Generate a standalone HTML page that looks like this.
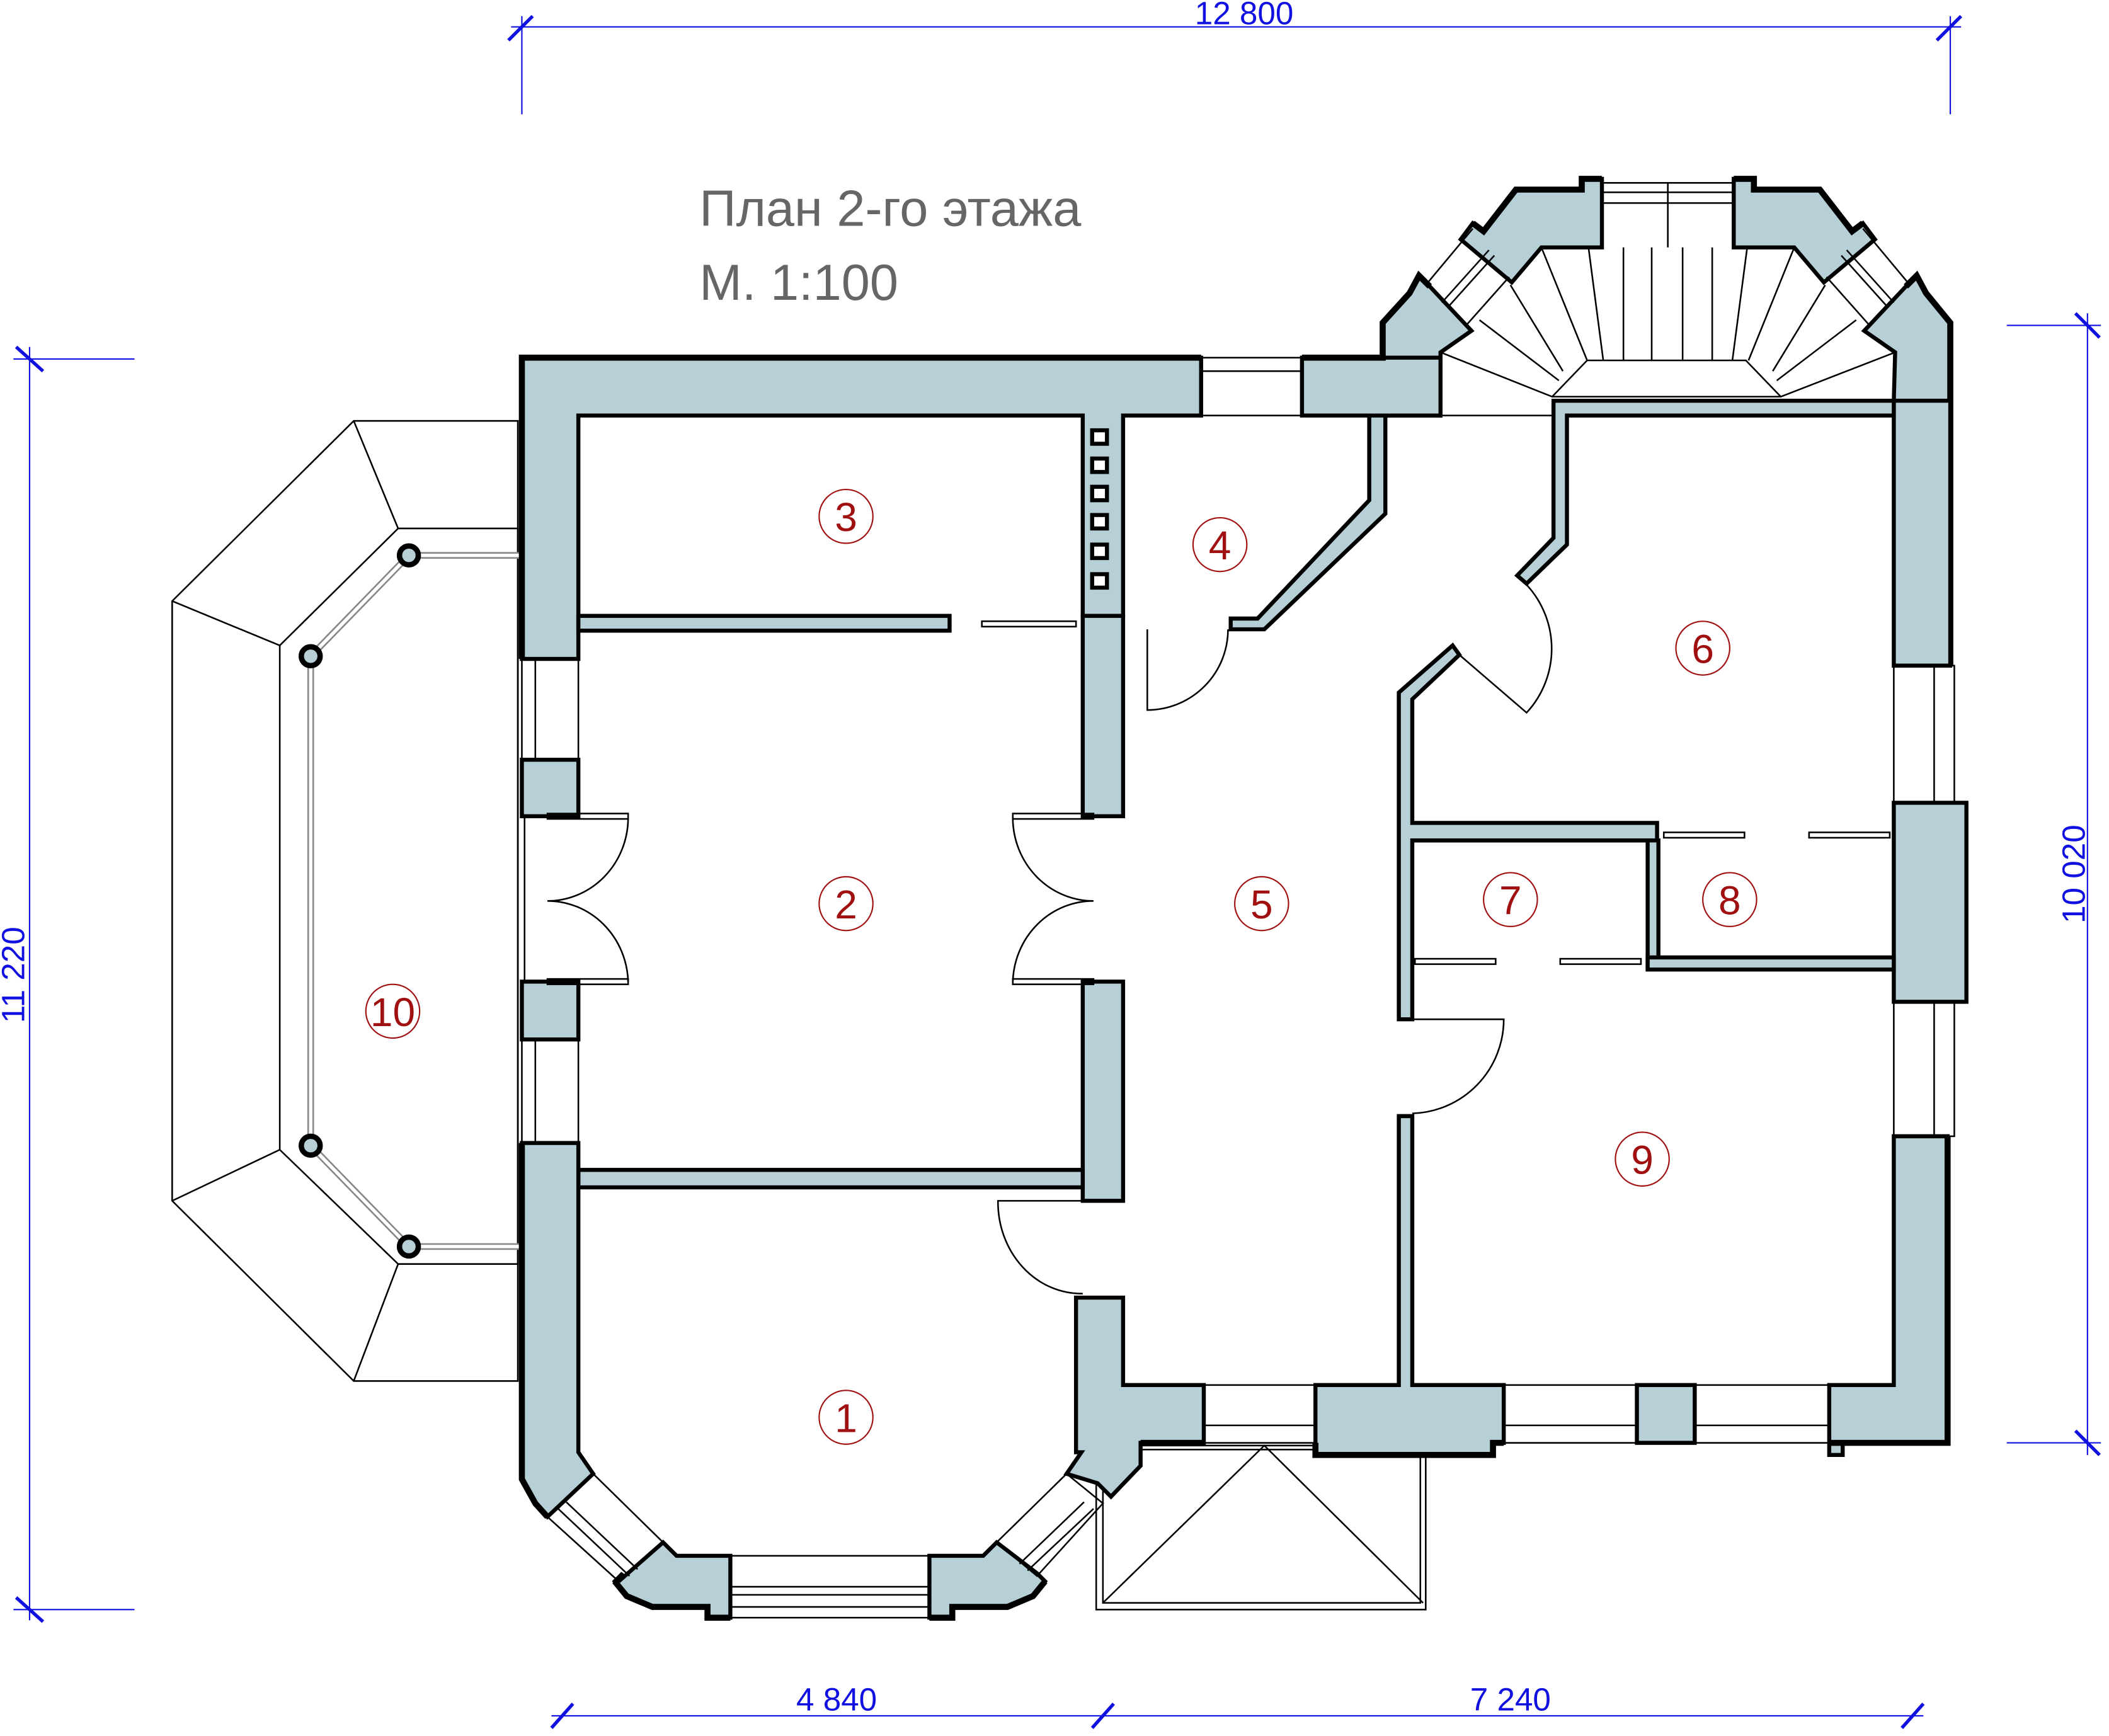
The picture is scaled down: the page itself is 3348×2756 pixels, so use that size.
<!DOCTYPE html>
<html><head><meta charset="utf-8"><style>
html,body{margin:0;padding:0;background:#fff;}
svg{display:block;}
.w{fill:#b7cfd6;stroke:#000;stroke-width:3;stroke-linejoin:miter}
.t{fill:none;stroke:#000;stroke-width:1.2}
.o{fill:none;stroke:#000;stroke-width:4.5;stroke-linejoin:miter}
.d{stroke:#1010e0;stroke-width:1;fill:none}
.tk{stroke:#1010e0;stroke-width:2.5}
.dt{font-family:"Liberation Sans",sans-serif;font-size:24px;fill:#1010e0}
.rc{fill:none;stroke:#a01010;stroke-width:1}
.rt{font-family:"Liberation Sans",sans-serif;font-size:30px;fill:#a01010;text-anchor:middle}
</style></head><body>
<svg width="3348" height="2756" viewBox="0 0 1568 1291" preserveAspectRatio="none" xmlns="http://www.w3.org/2000/svg">
<rect width="1568" height="1291" fill="#fff"/>
<!-- dimensions -->
<line class="d" x1="380" y1="20" x2="1458" y2="20"/><line class="tk" x1="378" y1="30" x2="396" y2="12"/><line class="tk" x1="1440" y1="30" x2="1458" y2="12"/>
<line class="d" x1="388" y1="12" x2="388" y2="85"/><line class="d" x1="1450" y1="12" x2="1450" y2="85"/>
<text class="dt" x="925" y="18" text-anchor="middle">12 800</text>
<line class="d" x1="22" y1="258" x2="22" y2="1205"/><line class="d" x1="10" y1="267" x2="100" y2="267"/><line class="d" x1="10" y1="1197" x2="100" y2="1197"/>
<line class="tk" x1="12" y1="258" x2="32" y2="276"/><line class="tk" x1="12" y1="1188" x2="32" y2="1206"/>
<text class="dt" transform="translate(18,725) rotate(-90)" text-anchor="middle">11 220</text>
<line class="d" x1="1552" y1="233" x2="1552" y2="1082"/><line class="d" x1="1492" y1="242" x2="1562" y2="242"/><line class="d" x1="1492" y1="1073" x2="1562" y2="1073"/>
<line class="tk" x1="1543" y1="233" x2="1561" y2="251"/><line class="tk" x1="1543" y1="1064" x2="1561" y2="1082"/>
<text class="dt" transform="translate(1550,650) rotate(-90)" text-anchor="middle">10 020</text>
<line class="d" x1="410" y1="1276" x2="1430" y2="1276"/>
<line class="tk" x1="410" y1="1285" x2="426" y2="1267"/><line class="tk" x1="812" y1="1285" x2="828" y2="1267"/><line class="tk" x1="1414" y1="1285" x2="1430" y2="1267"/>
<text class="dt" x="622" y="1272" text-anchor="middle">4 840</text><text class="dt" x="1123" y="1272" text-anchor="middle">7 240</text>
<!-- title -->
<text x="520" y="168" font-family="Liberation Sans,sans-serif" font-size="38" fill="#666">План 2-го этажа</text>
<text x="520" y="223" font-family="Liberation Sans,sans-serif" font-size="38" fill="#666">М. 1:100</text>
<!-- balcony 10 -->
<polygon class="t" points="385,313 263,313 128,447 128,893 263,1027 385,1027"/>
<polygon class="t" points="385,393 296,393 208,480 208,855 296,940 385,940"/>
<line class="t" x1="263" y1="313" x2="296" y2="393"/><line class="t" x1="128" y1="447" x2="208" y2="480"/><line class="t" x1="128" y1="893" x2="208" y2="855"/><line class="t" x1="263" y1="1027" x2="296" y2="940"/>
<polyline points="388,413 304,413 231,488 231,852 304,927 388,927" fill="none" stroke="#888" stroke-width="5"/>
<polyline points="388,413 304,413 231,488 231,852 304,927 388,927" fill="none" stroke="#fff" stroke-width="2.5"/>
<g fill="#b7cfd6" stroke="#000" stroke-width="4"><circle cx="304" cy="413" r="7"/><circle cx="231" cy="488" r="7"/><circle cx="231" cy="852" r="7"/><circle cx="304" cy="927" r="7"/></g>
<!-- porch -->
<rect class="t" x="815" y="1075" width="245" height="122"/><rect class="t" x="820" y="1078" width="236" height="114"/>
<polyline class="t" points="820,1192 940,1075 1058,1192"/>
<!-- stair tower -->
<polygon class="w" points="1028,309 1028,240 1048,218 1055,205 1063,213 1094,246 1071,262 1071,309"/>
<polygon class="w" points="1086,178 1095,166 1103,172 1127,141 1176,141 1176,133 1191,133 1191,184 1146,184 1124,210"/>
<polygon class="w" points="1394,178 1385,166 1377,172 1353,141 1304,141 1304,133 1289,133 1289,184 1334,184 1356,210"/>
<polygon class="w" points="1450,298 1450,240 1432,218 1425,205 1417,213 1386,246 1409,262 1408,298"/>
<g class="t">
<line x1="1060" y1="212" x2="1095" y2="170"/><line x1="1090" y1="242" x2="1122" y2="206"/><line x1="1072" y1="225" x2="1107" y2="186"/><line x1="1076" y1="229" x2="1111" y2="190"/>
<line x1="1420" y1="212" x2="1385" y2="170"/><line x1="1390" y1="242" x2="1358" y2="206"/><line x1="1408" y1="225" x2="1373" y2="186"/><line x1="1404" y1="229" x2="1369" y2="190"/>
<rect x="1191" y="143" width="98" height="8"/><line x1="1240" y1="136" x2="1240" y2="184"/><line x1="1191" y1="136" x2="1289" y2="136"/>
<polyline points="1071,262 1154,295 1180,268 1298,268 1324,295 1409,262"/>
<line x1="1154" y1="295" x2="1324" y2="295"/>
<line x1="1123" y1="212" x2="1162" y2="276"/><line x1="1100" y1="238" x2="1159" y2="283"/>
<line x1="1357" y1="212" x2="1318" y2="276"/><line x1="1380" y1="238" x2="1321" y2="283"/>
<line x1="1146" y1="184" x2="1180" y2="268"/><line x1="1181" y1="184" x2="1192" y2="268"/>
<line x1="1334" y1="184" x2="1300" y2="268"/><line x1="1299" y1="184" x2="1288" y2="268"/>
<line x1="1207" y1="184" x2="1207" y2="268"/><line x1="1228" y1="184" x2="1228" y2="268"/><line x1="1251" y1="184" x2="1251" y2="268"/><line x1="1273" y1="184" x2="1273" y2="268"/>
<line x1="1030" y1="309" x2="1155" y2="309"/>
</g>
<!-- main top wall -->
<polygon class="w" points="388,266 893,266 893,309 835,309 835,458 805,458 805,309 430,309 430,490 388,490"/>
<polygon class="w" points="968,266 1028,266 1071,266 1071,309 1030,309 968,309"/>
<rect class="t" x="893" y="266" width="75" height="43"/><line class="t" x1="893" y1="276" x2="968" y2="276"/>
<polyline class="o" points="388,490 388,266 893,266"/><polyline class="o" points="968,266 1028,266 1028,240 1048,218 1055,205 1063,213"/>
<polyline class="o" points="1095,166 1103,172 1127,141 1176,141 1176,133 1191,133"/>
<polyline class="o" points="1289,133 1304,133 1304,141 1353,141 1377,172 1385,166"/>
<polyline class="o" points="1417,213 1425,205 1432,218 1450,240 1450,495"/>
<!-- chimney squares -->
<g fill="#fff" stroke="#000" stroke-width="3"><rect x="812" y="320" width="11" height="10"/><rect x="812" y="341" width="11" height="10"/><rect x="812" y="362" width="11" height="10"/><rect x="812" y="383" width="11" height="10"/><rect x="812" y="405" width="11" height="10"/><rect x="812" y="427" width="11" height="10"/>
<rect x="1426" y="623" width="16" height="14"/><rect x="1426" y="648" width="16" height="14"/><rect x="1426" y="673" width="16" height="14"/><rect x="1426" y="700" width="16" height="14"/></g>
<!-- interior walls -->
<rect class="w" x="430" y="458" width="276" height="11"/>
<rect class="w" x="805" y="458" width="30" height="149"/>
<rect class="w" x="805" y="730" width="30" height="163"/>
<rect class="w" x="430" y="870" width="375" height="13"/>
<!-- left wall -->
<rect class="w" x="388" y="565" width="42" height="42"/><rect class="w" x="388" y="730" width="42" height="43"/>
<rect class="t" x="388" y="490" width="42" height="75"/><line class="t" x1="398" y1="490" x2="398" y2="565"/>
<rect class="t" x="388" y="773" width="42" height="77"/><line class="t" x1="398" y1="773" x2="398" y2="850"/>
<line class="t" x1="390" y1="607" x2="390" y2="730"/>
<!-- room 1 bay -->
<polygon class="w" points="388,850 430,850 430,1080 441,1096 407,1128 398,1118 388,1100"/>
<polygon class="w" points="493,1147 503,1157 543,1157 543,1203 526,1203 526,1195 485,1195 466,1187 457,1176 463,1170 460,1176"/>
<polygon class="w" points="835,965 835,1030 895,1030 895,1073 848,1073 848,1090 826,1113 816,1103 793,1096 804,1080 800,1080 800,965"/>
<polygon class="w" points="741,1147 731,1157 691,1157 691,1203 708,1203 708,1195 749,1195 768,1187 777,1176 771,1170"/>
<polygon class="t" points="441,1096 493,1147 460,1176 407,1128"/>
<line class="t" x1="415" y1="1122" x2="468" y2="1172"/><line class="t" x1="421" y1="1117" x2="474" y2="1167"/>
<polygon class="t" points="793,1096 741,1147 771,1172 820,1118"/>
<line class="t" x1="813" y1="1122" x2="764" y2="1168"/><line class="t" x1="806" y1="1117" x2="758" y2="1163"/>
<rect class="t" x="543" y="1157" width="148" height="46"/><line class="t" x1="543" y1="1180" x2="691" y2="1180"/><line class="t" x1="543" y1="1186" x2="691" y2="1186"/><line class="t" x1="543" y1="1195" x2="691" y2="1195"/>
<polyline class="o" points="388,850 388,1100 398,1118 407,1128"/><polyline class="o" points="457,1176 466,1187 485,1195 526,1195 526,1203 543,1203"/>
<polyline class="o" points="691,1203 708,1203 708,1195 749,1195 768,1187 777,1176"/>
<!-- bottom wall -->
<polygon class="w" points="978,1030 1040,1030 1040,830 1050,830 1050,1030 1118,1030 1118,1073 1110,1073 1110,1082 978,1082 978,1073"/>
<rect class="t" x="895" y="1030" width="83" height="43"/><line class="t" x1="895" y1="1060" x2="978" y2="1060"/>
<rect class="w" x="1217" y="1030" width="43" height="43"/>
<rect class="t" x="1118" y="1030" width="99" height="43"/><line class="t" x1="1118" y1="1060" x2="1217" y2="1060"/>
<rect class="t" x="1260" y="1030" width="100" height="43"/><line class="t" x1="1260" y1="1060" x2="1360" y2="1060"/>
<polygon class="w" points="1360,1030 1408,1030 1408,845 1448,845 1448,1073 1370,1073 1370,1082 1360,1082"/>
<polyline class="o" points="848,1073 895,1073"/><polyline class="o" points="978,1073 978,1082 1110,1082 1110,1073 1118,1073"/>
<polyline class="o" points="1360,1073 1448,1073 1448,845"/>
<!-- right wall -->
<rect class="w" x="1408" y="298" width="42" height="197"/>
<rect class="t" x="1408" y="495" width="45" height="102"/><line class="t" x1="1438" y1="495" x2="1438" y2="597"/>
<rect class="w" x="1408" y="597" width="54" height="148"/>
<rect class="t" x="1408" y="745" width="45" height="100"/><line class="t" x1="1438" y1="745" x2="1438" y2="845"/>
<!-- room 4 diagonal -->
<polygon class="w" points="1018,309 1030,309 1030,382 940,468 915,468 915,460 935,460 1018,372"/>
<!-- room 6 walls -->
<polygon class="w" points="1155,298 1408,298 1408,309 1165,309 1165,405 1135,434 1128,428 1155,400"/>
<polygon class="w" points="1080,480 1085,487 1050,520 1050,612 1232,612 1232,625 1050,625 1050,758 1040,758 1040,515"/>
<rect class="w" x="1225" y="625" width="8" height="95"/>
<rect class="w" x="1225" y="712" width="183" height="9"/>
<!-- doors -->
<g class="t">
<rect x="407" y="605" width="60" height="4"/><rect x="407" y="728" width="60" height="4"/>
<path d="M467,609 A 60,62 0 0 1 407,670 A 60,62 0 0 1 467,730"/>
<rect x="753" y="605" width="60" height="4"/><rect x="753" y="728" width="60" height="4"/>
<path d="M753,609 A 60,62 0 0 0 813,670 A 60,62 0 0 0 753,730"/>
<path d="M805,893 L742,893 A 62,68 0 0 0 805,962"/>
<path d="M853,468 L853,528 A 60,60 0 0 0 913,468"/>
<path d="M1130,430 A 70,70 0 0 1 1135,530 L1085,487"/>
<path d="M1050,758 L1118,758 A 70,70 0 0 1 1050,828"/>
<rect x="730" y="462" width="70" height="4"/><rect x="1052" y="713" width="60" height="4"/><rect x="1160" y="713" width="60" height="4"/>
<rect x="1237" y="619" width="60" height="4"/><rect x="1345" y="619" width="60" height="4"/>
</g>
<!-- room labels -->
<g>
<ellipse class="rc" cx="629" cy="384" rx="20" ry="20"/><text class="rt" x="629" y="395">3</text>
<ellipse class="rc" cx="907" cy="405" rx="20" ry="20"/><text class="rt" x="907" y="416">4</text>
<ellipse class="rc" cx="629" cy="672" rx="20" ry="20"/><text class="rt" x="629" y="683">2</text>
<ellipse class="rc" cx="938" cy="672" rx="20" ry="20"/><text class="rt" x="938" y="683">5</text>
<ellipse class="rc" cx="1266" cy="482" rx="20" ry="20"/><text class="rt" x="1266" y="493">6</text>
<ellipse class="rc" cx="1123" cy="669" rx="20" ry="20"/><text class="rt" x="1123" y="680">7</text>
<ellipse class="rc" cx="1286" cy="669" rx="20" ry="20"/><text class="rt" x="1286" y="680">8</text>
<ellipse class="rc" cx="1221" cy="862" rx="20" ry="20"/><text class="rt" x="1221" y="873">9</text>
<ellipse class="rc" cx="292" cy="752" rx="20" ry="20"/><text class="rt" x="292" y="763">10</text>
<ellipse class="rc" cx="629" cy="1054" rx="20" ry="20"/><text class="rt" x="629" y="1065">1</text>
</g>
</svg>
</body></html>
